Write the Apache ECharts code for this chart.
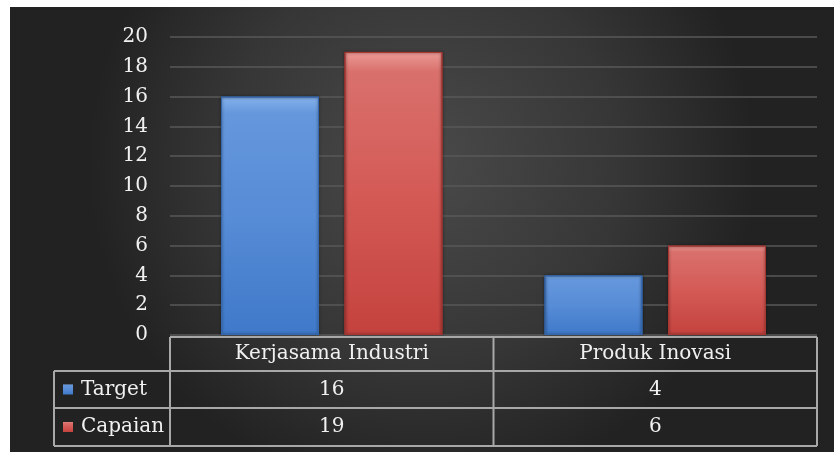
<!DOCTYPE html>
<html><head><meta charset="utf-8">
<script src="https://cdn.jsdelivr.net/npm/echarts@6/dist/echarts.min.js"></script>
<style>html,body{margin:0;padding:0;background:#fff}#c{width:834px;height:452px}</style>
</head><body><div id="c"></div>
<script>
const categories = ['Kerjasama Industri', 'Produk Inovasi'];
const seriesNames = ['Target', 'Capaian'];
const target = [16, 4];
const capaian = [19, 6];
const yMin = 0, yMax = 20, yInterval = 2;

const FONT = 'DejaVu Serif';
const FS = 20;
const TXT = '#f0f0f0';
const LINE = '#a8a8a8';

const chart = echarts.init(document.getElementById('c'), null, {renderer: 'canvas'});

const blueGrad = new echarts.graphic.LinearGradient(0, 0, 0, 1, [
  {offset: 0, color: '#86b2ec'}, {offset: 0.07, color: '#6497dc'},
  {offset: 0.5, color: '#578cd6'}, {offset: 1, color: '#3f79c9'}]);
const redGrad = new echarts.graphic.LinearGradient(0, 0, 0, 1, [
  {offset: 0, color: '#ec9a96'}, {offset: 0.07, color: '#d9706c'},
  {offset: 0.5, color: '#d45a56'}, {offset: 1, color: '#c4423e'}]);

const grid = {left: 170, right: 17, top: 37, bottom: 117};

chart.setOption({
  animation: false,
  grid: grid,
  xAxis: {
    type: 'category', data: categories,
    axisLine: {show: false}, axisTick: {show: false}, axisLabel: {show: false}
  },
  yAxis: {
    type: 'value', min: yMin, max: yMax, interval: yInterval,
    axisLine: {show: false}, axisTick: {show: false},
    axisLabel: {color: TXT, fontFamily: FONT, fontSize: FS, margin: 22},
    splitLine: {lineStyle: {color: '#585858', width: 1.5}}
  },
  series: [
    {name: seriesNames[0], type: 'bar', data: target, barWidth: 98, barGap: '26%',
     itemStyle: {color: blueGrad, borderColor: '#3469b0', borderWidth: 1, shadowBlur: 3, shadowColor: 'rgba(0,0,0,0.6)'}},
    {name: seriesNames[1], type: 'bar', data: capaian, barWidth: 98, barGap: '26%',
     itemStyle: {color: redGrad, borderColor: '#a83733', borderWidth: 1, shadowBlur: 3, shadowColor: 'rgba(0,0,0,0.6)'}}
  ]
});

// Background + data table
const W = 834, H = 452;
const plotL = grid.left, plotR = W - grid.right;
const rowY = [337, 371, 408, 446];
const legL = 54;
const colX = [plotL, (plotL + plotR) / 2, plotR];
const catCenters = categories.map(c => chart.convertToPixel({xAxisIndex: 0}, c));
const els = [];
els.push({type: 'rect', z: -10, silent: true,
  shape: {x: 10, y: 7, width: W - 10, height: H - 7},
  style: {fill: new echarts.graphic.RadialGradient(0.5, 0.35, 0.75, [
    {offset: 0, color: '#4a4a4a'}, {offset: 0.6, color: '#363636'}, {offset: 1, color: '#222222'}])}});
function hline(y, x1, x2) { els.push({type: 'line', z: 10, shape: {x1, y1: y, x2, y2: y}, style: {stroke: LINE, lineWidth: 2}}); }
function vline(x, y1, y2) { els.push({type: 'line', z: 10, shape: {x1: x, y1, x2: x, y2}, style: {stroke: LINE, lineWidth: 2}}); }
hline(rowY[0], plotL, plotR);
hline(rowY[1], legL, plotR);
hline(rowY[2], legL, plotR);
hline(rowY[3], legL, plotR);
vline(legL, rowY[1], rowY[3]);
colX.forEach(x => vline(x, rowY[0], rowY[3]));
function text(t, x, y, align) {
  els.push({type: 'text', z: 11, x, y, style: {text: t, fill: TXT, fontFamily: FONT, fontSize: FS, align: align, verticalAlign: 'middle'}});
}
categories.forEach((c, i) => text(c, catCenters[i], (rowY[0] + rowY[1]) / 2, 'center'));
const rows = [target, capaian];
const keyColors = [blueGrad, redGrad];
rows.forEach((vals, r) => {
  const cy = (rowY[r + 1] + rowY[r + 2]) / 2;
  vals.forEach((v, i) => text(String(v), catCenters[i], cy, 'center'));
  text(seriesNames[r], 81, cy, 'left');
  els.push({type: 'rect', z: 11, shape: {x: 63, y: cy - 5, width: 10, height: 10}, style: {fill: keyColors[r]}});
});
chart.setOption({graphic: els});
</script></body></html>
